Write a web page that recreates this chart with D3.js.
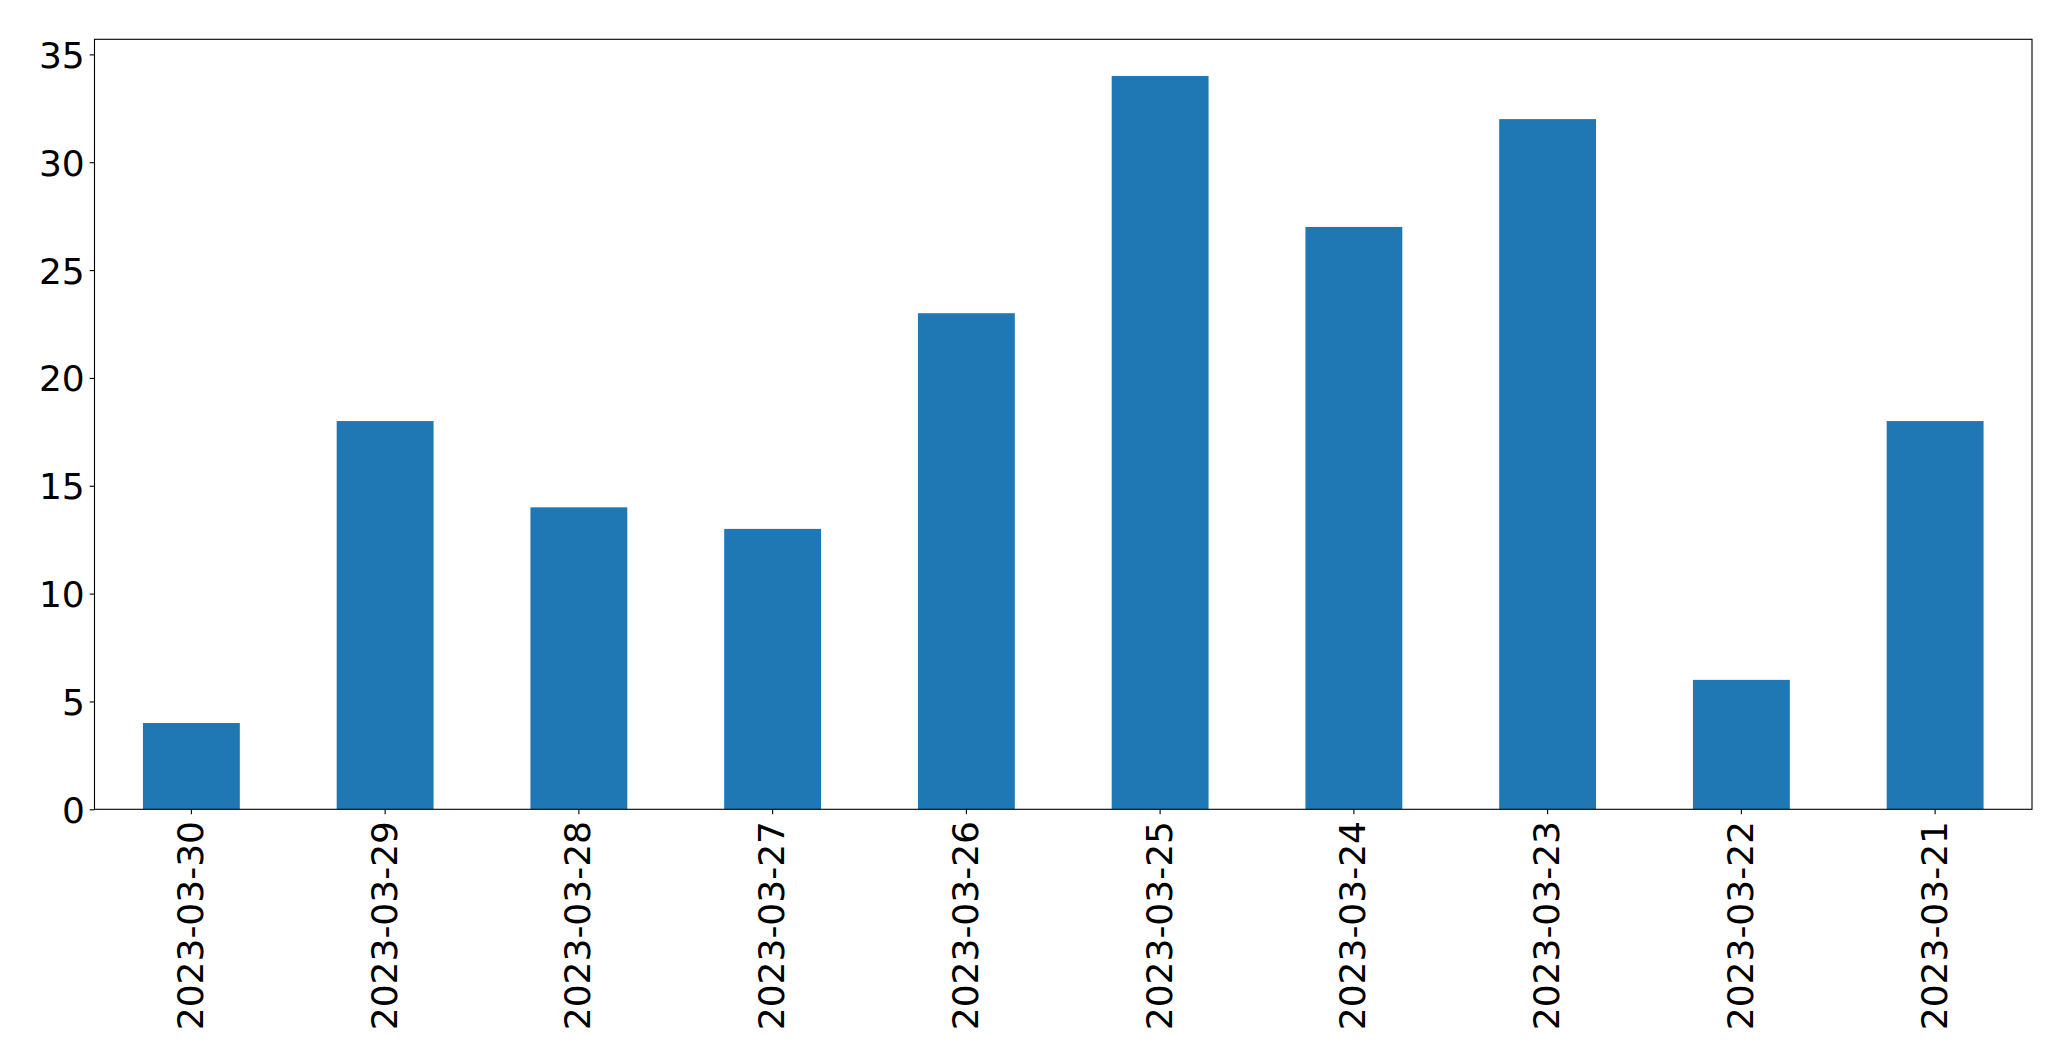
<!DOCTYPE html>
<html>
<head>
<meta charset="utf-8">
<script src="https://cdn.jsdelivr.net/npm/d3@7"></script>
<style>
  html, body { margin: 0; padding: 0; background: #fff; }
  svg { display: block; }
  text { font-family: "DejaVu Sans", sans-serif; }
</style>
</head>
<body>
<svg id="chart" width="2071" height="1061"></svg>
<script>
const categories = ["2023-03-30","2023-03-29","2023-03-28","2023-03-27","2023-03-26","2023-03-25","2023-03-24","2023-03-23","2023-03-22","2023-03-21"];
const values = [4, 18, 14, 13, 23, 34, 27, 32, 6, 18];
const yTicks = [0, 5, 10, 15, 20, 25, 30, 35];

const W = 2071, H = 1061;
const margin = { left: 94.5, right: W - 2032, top: 39.3, bottom: H - 809.3 };
const iw = W - margin.left - margin.right;
const ih = H - margin.top - margin.bottom;
const fontSize = 36;
const tickLen = 4.86, tickPad = 4.86;

const svg = d3.select("#chart");
const g = svg.append("g").attr("transform", `translate(${margin.left},${margin.top})`);

const x = d3.scaleBand().domain(categories).range([0, iw]).paddingInner(0.5).paddingOuter(0.25);
const y = d3.scaleLinear().domain([0, d3.max(values) * 1.05]).range([ih, 0]);

g.selectAll("rect.bar")
  .data(categories.map((c, i) => ({ c, v: values[i] })))
  .enter().append("rect")
  .attr("class", "bar")
  .attr("x", d => x(d.c))
  .attr("width", x.bandwidth())
  .attr("y", d => y(d.v))
  .attr("height", d => y(0) - y(d.v))
  .attr("fill", "#1f77b4");

// Y axis
const yAxis = d3.axisLeft(y).tickValues(yTicks).tickSize(tickLen).tickPadding(tickPad).tickFormat(d3.format("d"));
const ya = g.append("g").call(yAxis);
ya.select(".domain").remove();
ya.selectAll(".tick line").attr("stroke", "#000").attr("stroke-width", 1.1);
ya.selectAll(".tick text").attr("font-size", fontSize).attr("fill", "#000").attr("font-family", "DejaVu Sans").attr("dy", "0.36em");

// X axis
const xAxis = d3.axisBottom(x).tickSize(tickLen).tickPadding(tickPad);
const xa = g.append("g").attr("transform", `translate(0,${ih})`).call(xAxis);
xa.select(".domain").remove();
xa.selectAll(".tick line").attr("stroke", "#000").attr("stroke-width", 1.1);
xa.selectAll(".tick text")
  .attr("font-size", fontSize)
  .attr("fill", "#000")
  .attr("font-family", "DejaVu Sans")
  .attr("text-anchor", "end")
  .attr("transform", `translate(0,${tickLen + tickPad + 2}) rotate(-90)`)
  .attr("x", 0)
  .attr("y", 0)
  .attr("dy", "0.32em");

// Frame
g.append("rect")
  .attr("x", 0).attr("y", 0).attr("width", iw).attr("height", ih)
  .attr("fill", "none").attr("stroke", "#000").attr("stroke-width", 1.1);
</script>
</body>
</html>
